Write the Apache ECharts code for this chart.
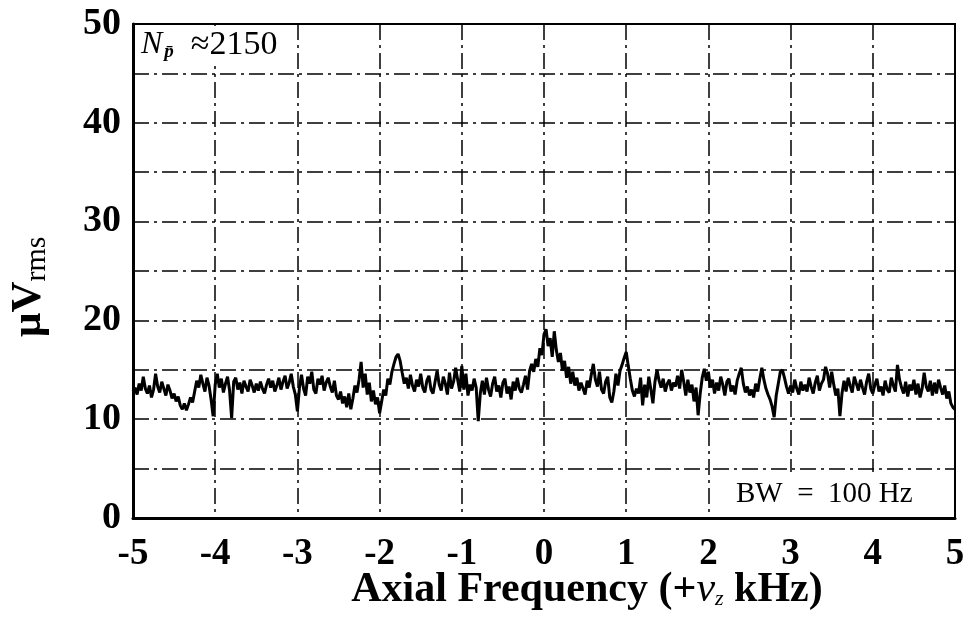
<!DOCTYPE html>
<html>
<head>
<meta charset="utf-8">
<script src="https://cdn.jsdelivr.net/npm/echarts@6/dist/echarts.min.js"></script>
<style>html,body{margin:0;padding:0;background:#fff}#c{width:970px;height:622px}</style>
</head>
<body>
<div id="c"></div>
<script>
// Frequency sampling of the trace (kHz)
const freqStart = -5;
const freqStep = 0.025;
// Trace values (µV rms), 40 samples per kHz
const seg_m5 = [12.8,13.2,12.5,13.6,12.9,14.3,13.1,12.6,13.4,12.2,13.0,14.6,13.3,12.7,13.8,13.1,12.4,13.5,12.9,12.1,12.6,11.8,12.3,11.4,11.0,11.6,10.9,11.5,12.2,11.7,12.8,13.9,13.2,14.5,13.6,12.8,14.2,13.4,12.0,10.3];
const seg_m4 = [13.5,14.6,13.2,14.1,12.7,13.6,14.3,12.9,10.1,13.8,14.2,13.0,13.7,12.6,13.9,13.3,12.8,14.0,13.4,12.7,13.6,12.9,13.8,13.1,12.6,13.5,14.1,13.2,13.9,12.8,13.4,14.2,13.0,13.8,14.4,13.1,13.7,14.6,13.3,12.5];
const seg_m3 = [10.8,13.2,14.5,13.1,12.4,14.3,13.6,14.8,13.0,12.6,14.1,13.5,14.4,12.9,13.7,14.2,13.3,12.7,13.9,12.4,12.0,12.8,11.6,12.3,11.2,12.6,11.0,12.1,13.4,12.7,14.0,15.8,13.2,14.6,12.5,13.7,11.8,12.9,11.5,12.2];
const seg_m2 = [10.6,11.8,13.0,12.4,14.1,13.5,14.8,15.6,16.3,16.6,15.9,14.7,13.6,14.2,13.1,14.5,13.4,12.8,14.0,13.3,14.6,13.2,12.7,13.9,14.4,13.0,12.6,13.8,14.9,13.5,12.9,14.3,13.6,12.5,14.7,13.1,13.8,15.2,14.0,12.8];
const seg_m1 = [15.4,13.0,14.6,12.4,13.5,12.9,14.1,13.2,9.8,12.6,13.9,12.5,14.2,13.0,12.3,13.6,14.3,12.8,13.4,12.2,13.7,14.1,12.6,13.3,12.0,13.8,12.9,14.2,13.1,12.7,13.5,14.4,13.0,14.9,15.6,14.8,16.1,15.3,17.2,16.5];
const seg_0 = [18.6,19.1,17.4,18.2,16.3,18.9,17.0,15.8,16.7,14.9,15.9,14.2,15.3,13.6,14.8,13.4,14.2,12.9,13.7,13.1,12.5,13.9,13.2,14.5,15.6,14.0,13.3,14.8,13.0,12.6,13.8,14.3,12.2,11.7,12.8,14.6,13.4,14.9,15.5,16.2];
const seg_1 = [16.8,15.4,14.1,12.9,12.3,13.1,12.6,14.2,11.4,13.5,12.2,14.3,13.0,11.6,13.8,15.0,13.9,13.2,14.1,12.8,13.6,14.0,12.9,13.7,13.3,14.4,13.1,15.0,13.8,12.4,14.0,12.7,13.5,11.8,13.2,10.4,12.6,14.2,15.1,13.9];
const seg_2 = [14.8,13.2,14.0,12.6,13.7,12.9,14.3,13.5,12.4,13.8,14.1,12.8,13.4,12.5,13.9,14.6,15.2,13.6,12.7,13.3,12.4,13.0,12.2,13.6,12.8,14.1,15.2,14.0,13.1,12.5,12.0,11.3,10.2,12.4,13.6,14.8,15.0,14.2,13.3,12.6];
const seg_3 = [13.4,12.7,14.0,13.1,12.5,13.8,12.9,13.5,12.8,14.2,13.3,12.6,13.7,14.4,12.9,13.6,14.0,15.3,14.6,13.2,14.8,13.5,12.4,13.1,10.3,12.6,13.9,12.8,14.2,13.4,12.7,14.3,13.6,12.9,14.0,13.2,12.5,13.8,14.6,13.1];
const seg_4 = [12.6,13.5,14.1,12.8,13.3,12.4,13.9,13.0,12.7,14.2,13.4,12.8,15.5,14.0,13.2,12.6,13.8,12.3,13.5,12.9,14.0,12.5,13.6,12.2,13.1,14.7,13.3,12.8,13.9,12.4,13.7,12.6,14.0,13.2,12.5,13.4,12.1,12.8,11.6,11.2,11.0];
const traceValues = [].concat(seg_m5, seg_m4, seg_m3, seg_m2, seg_m1, seg_0, seg_1, seg_2, seg_3, seg_4);

const xTicks = [-5,-4,-3,-2,-1,0,1,2,3,4,5];
const yTickLabels = [0,10,20,30,40,50];

const traceData = traceValues.map((v, i) => [+(freqStart + i * freqStep).toFixed(3), v]);

const serif = '"Liberation Serif","DejaVu Serif",serif';
const gridDash = [16, 5, 3, 5];

const chart = echarts.init(document.getElementById('c'), null, {renderer: 'canvas'});
chart.setOption({
  animation: false,
  backgroundColor: '#fff',
  grid: {left: 133, right: 15, top: 24, bottom: 104, show: true, borderColor: '#000', borderWidth: 2, backgroundColor: 'transparent'},
  xAxis: {
    type: 'value', min: -5, max: 5, interval: 1,
    axisLine: {show: true, onZero: false, lineStyle: {color: '#000', width: 3}},
    axisTick: {show: false},
    splitLine: {show: true, lineStyle: {color: '#000', width: 1.5, type: gridDash}},
    axisLabel: {
      color: '#000', fontFamily: serif, fontWeight: 'bold', fontSize: 37, margin: 18,
      formatter: v => xTicks.includes(v) ? String(v) : ''
    }
  },
  yAxis: {
    type: 'value', min: 0, max: 50, interval: 5,
    axisLine: {show: true, onZero: false, lineStyle: {color: '#000', width: 3}},
    axisTick: {show: false},
    splitLine: {show: true, lineStyle: {color: '#000', width: 1.5, type: gridDash}},
    axisLabel: {
      color: '#000', fontFamily: serif, fontWeight: 'bold', fontSize: 38, margin: 12,
      formatter: v => yTickLabels.includes(v) ? String(v) : ''
    }
  },
  series: [{
    type: 'line', data: traceData, showSymbol: false, symbol: 'none',
    lineStyle: {color: '#000', width: 3}, z: 5
  }],
  graphic: [
    {
      type: 'text', x: 587, y: 569, z: 10,
      style: {
        text: '{a|Axial Frequency (+}{i|ν}{s|z}{a| kHz)}',
        align: 'center',
        rich: {
          a: {fontFamily: serif, fontWeight: 'bold', fontSize: 42, fill: '#000'},
          i: {fontFamily: serif, fontStyle: 'italic', fontSize: 42, fill: '#000'},
          s: {fontFamily: serif, fontStyle: 'italic', fontSize: 22, fill: '#000', padding: [18, 0, 0, 0]}
        }
      }
    },
    {
      type: 'text', x: 6, y: 337, rotation: Math.PI / 2, z: 10,
      style: {
        text: '{a|μV}{s|rms}',
        rich: {
          a: {fontFamily: serif, fontWeight: 'bold', fontSize: 43, fill: '#000'},
          s: {fontFamily: serif, fontSize: 30, fill: '#000', padding: [16, 0, 0, 0]}
        }
      }
    },
    {
      type: 'text', left: 135, top: 26, z: 10,
      style: {
        text: '{n|N}{s|p̄}{a|  ≈2150}',
        backgroundColor: '#fff',
        padding: [2, 8, 4, 6],
        rich: {
          n: {fontFamily: serif, fontStyle: 'italic', fontSize: 32, fill: '#000'},
          s: {fontFamily: serif, fontStyle: 'italic', fontWeight: 'bold', fontSize: 19, fill: '#000', padding: [14, 0, 0, 2]},
          a: {fontFamily: serif, fontSize: 34, fill: '#000'}
        }
      }
    },
    {
      type: 'text', left: 712, top: 472, z: 10,
      style: {
        text: 'BW  =  100 Hz', fontFamily: serif, fontSize: 29, fill: '#000',
        backgroundColor: '#fff', padding: [8, 38, 6, 24]
      }
    }
  ]
});
</script>
</body>
</html>
